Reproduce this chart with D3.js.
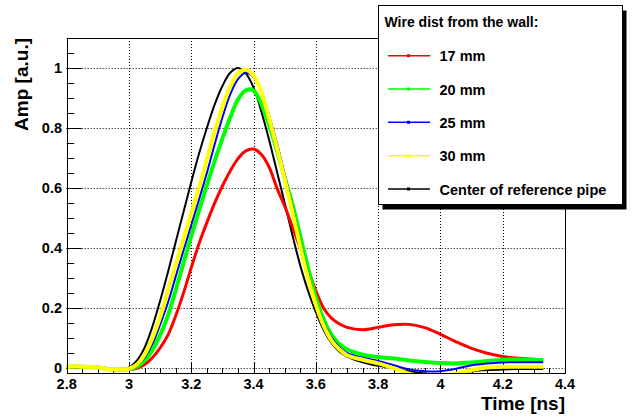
<!DOCTYPE html>
<html><head><meta charset="utf-8">
<script src="https://cdn.jsdelivr.net/npm/d3@7"></script>
<style>
html,body{margin:0;padding:0;background:#fff;}
svg{display:block;font-family:"Liberation Sans",Arial,Helvetica,sans-serif;font-weight:bold;}
</style></head>
<body><svg id="c" width="632" height="420"></svg>
<script>
// ---- data ----
const time = [2.80,2.85,2.90,2.95,3.00,3.025,3.05,3.075,3.10,3.125,3.15,3.175,3.20,3.225,3.25,3.275,3.30,3.325,3.35,3.375,3.40,3.425,3.45,3.475,3.50,3.525,3.55,3.575,3.60,3.625,3.65,3.675,3.70,3.75,3.80,3.85,3.90,3.95,4.00,4.05,4.10,4.15,4.20,4.25,4.30,4.33];
const amp17 = [0.005,0.005,0.002,-0.004,-0.004,0.000,0.012,0.035,0.068,0.110,0.175,0.250,0.335,0.415,0.485,0.550,0.607,0.657,0.698,0.724,0.730,0.712,0.670,0.600,0.540,0.470,0.400,0.330,0.258,0.200,0.167,0.148,0.136,0.128,0.136,0.145,0.146,0.135,0.113,0.088,0.066,0.050,0.039,0.033,0.030,0.028];
const amp20 = [0.005,0.005,0.002,-0.004,-0.003,0.005,0.025,0.060,0.110,0.175,0.260,0.350,0.440,0.525,0.610,0.690,0.765,0.835,0.895,0.926,0.925,0.880,0.810,0.725,0.635,0.545,0.440,0.335,0.235,0.163,0.112,0.081,0.063,0.045,0.037,0.032,0.026,0.021,0.017,0.016,0.019,0.024,0.028,0.029,0.028,0.027];
const amp25 = [0.005,0.005,0.002,-0.004,-0.003,0.008,0.035,0.080,0.145,0.218,0.305,0.392,0.477,0.562,0.650,0.745,0.835,0.912,0.963,0.984,0.970,0.920,0.840,0.750,0.645,0.535,0.420,0.315,0.220,0.152,0.102,0.071,0.051,0.035,0.024,0.010,-0.004,-0.010,-0.010,-0.002,0.010,0.016,0.019,0.020,0.020,0.020];
const amp30 = [0.005,0.005,0.002,-0.004,-0.002,0.012,0.045,0.100,0.170,0.258,0.345,0.430,0.515,0.602,0.695,0.788,0.870,0.938,0.982,0.994,0.975,0.920,0.830,0.735,0.630,0.520,0.405,0.300,0.212,0.142,0.093,0.063,0.043,0.028,0.016,0.000,-0.018,-0.027,-0.028,-0.018,-0.006,0.002,0.005,0.005,0.005,0.005];
const ampRef = [0.005,0.005,0.002,-0.003,0.003,0.025,0.068,0.138,0.225,0.320,0.420,0.520,0.620,0.715,0.800,0.878,0.940,0.984,1.000,0.982,0.935,0.855,0.760,0.655,0.550,0.442,0.342,0.257,0.187,0.127,0.084,0.056,0.039,0.020,0.008,0.000,-0.010,-0.018,-0.022,-0.018,-0.010,-0.006,-0.004,-0.003,-0.003,-0.003];
const seriesNames = ["17 mm","20 mm","25 mm","30 mm","Center of reference pipe"];
const seriesColors = ["#ff0000","#00ff00","#0000ff","#ffff00","#000000"];
const legendTitle = "Wire dist from the wall:";
const xTickValues = [2.8,3.0,3.2,3.4,3.6,3.8,4.0,4.2,4.4];
const xTickLabels = ["2.8","3","3.2","3.4","3.6","3.8","4","4.2","4.4"];
const yTickValues = [0,0.2,0.4,0.6,0.8,1.0];
const yTickLabels = ["0","0.2","0.4","0.6","0.8","1"];
const xTitle = "Time [ns]";
const yTitle = "Amp [a.u.]";

// ---- layout ----
const svg = d3.select("#c");
const L = 66.7, R = 565, T = 38, B = 373;
const x = d3.scaleLinear().domain([2.8,4.4]).range([L,R]);
const y = d3.scaleLinear().domain([-0.016,1.1]).range([B,T]);

// grid
const grid = svg.append("g").attr("stroke","#000").attr("stroke-width",1).attr("stroke-dasharray","1,2");
grid.selectAll("line.gx").data(xTickValues.filter(v=>v>2.8&&v<4.4)).enter().append("line")
  .attr("x1",d=>Math.round(x(d))+0.5).attr("x2",d=>Math.round(x(d))+0.5).attr("y1",T).attr("y2",B);
grid.selectAll("line.gy").data(yTickValues).enter().append("line")
  .attr("y1",d=>Math.round(y(d))+0.5).attr("y2",d=>Math.round(y(d))+0.5).attr("x1",L).attr("x2",R);

// ticks
const xMinor = d3.range(2.8,4.4001,0.05);
const yMinor = d3.range(0,1.1001,0.05);
const tk = svg.append("g").attr("stroke","#000").attr("stroke-width",1);
tk.selectAll("line.xm").data(xMinor).enter().append("line")
  .attr("x1",d=>Math.round(x(d))+0.5).attr("x2",d=>Math.round(x(d))+0.5).attr("y1",B).attr("y2",B-5);
tk.selectAll("line.xM").data(xTickValues).enter().append("line")
  .attr("x1",d=>Math.round(x(d))+0.5).attr("x2",d=>Math.round(x(d))+0.5).attr("y1",B).attr("y2",B-10);
tk.selectAll("line.ym").data(yMinor).enter().append("line")
  .attr("y1",d=>Math.round(y(d))+0.5).attr("y2",d=>Math.round(y(d))+0.5).attr("x1",L).attr("x2",L+7.5);
tk.selectAll("line.yM").data(yTickValues).enter().append("line")
  .attr("y1",d=>Math.round(y(d))+0.5).attr("y2",d=>Math.round(y(d))+0.5).attr("x1",L).attr("x2",L+15);

// curves
svg.append("clipPath").attr("id","clip").append("rect").attr("x",L).attr("y",T).attr("width",R-L).attr("height",B-T);
const all = [amp17,amp20,amp25,amp30,ampRef];
const widths = [3,4,2,4,2];
const order = [4,0,1,2,3];
const line = d3.line().x((d,i)=>x(time[i])).y(d=>y(d)).curve(d3.curveCatmullRom.alpha(0.5));
const cg = svg.append("g").attr("clip-path","url(#clip)");
order.forEach(k=>{
  cg.append("path").attr("d",line(all[k])).attr("fill","none")
    .attr("stroke",seriesColors[k]).attr("stroke-width",widths[k]).attr("stroke-linejoin","round");
});

// frame
svg.append("rect").attr("x",Math.round(L)+0.5).attr("y",T+0.5).attr("width",Math.round(R)-Math.round(L)).attr("height",B-T)
  .attr("fill","none").attr("stroke","#000").attr("stroke-width",1);

// tick labels
svg.append("g").selectAll("text").data(xTickValues).enter().append("text")
  .attr("x",d=>x(d)).attr("y",389).attr("text-anchor","middle").attr("font-size",14.5)
  .text((d,i)=>xTickLabels[i]);
svg.append("g").selectAll("text").data(yTickValues).enter().append("text")
  .attr("x",62).attr("y",d=>y(d)+5).attr("text-anchor","end").attr("font-size",14.5)
  .text((d,i)=>yTickLabels[i]);

// axis titles
svg.append("text").attr("x",R).attr("y",410).attr("text-anchor","end").attr("font-size",19).text(xTitle);
svg.append("text").attr("transform","translate(28,"+T+") rotate(-90)").attr("text-anchor","end").attr("font-size",19).text(yTitle);

// legend
const lg = svg.append("g");
lg.append("rect").attr("x",382.5).attr("y",10.5).attr("width",244).attr("height",199).attr("fill","#000");
lg.append("rect").attr("x",378.5).attr("y",5.5).attr("width",244).attr("height",199).attr("fill","#fff").attr("stroke","#000");
lg.append("text").attr("x",384.5).attr("y",27).attr("font-size",14).text(legendTitle);
const ly = [55.7,89,122.3,155.7,189];
seriesNames.forEach((n,i)=>{
  lg.append("line").attr("x1",388).attr("x2",430).attr("y1",ly[i]).attr("y2",ly[i])
    .attr("stroke",seriesColors[i]).attr("stroke-width",1.5);
  lg.append("rect").attr("x",407).attr("y",ly[i]-1.5).attr("width",3).attr("height",3).attr("fill",seriesColors[i]);
  lg.append("text").attr("x",439.5).attr("y",ly[i]+5.5).attr("font-size",14.5).text(n);
});
</script></body></html>
